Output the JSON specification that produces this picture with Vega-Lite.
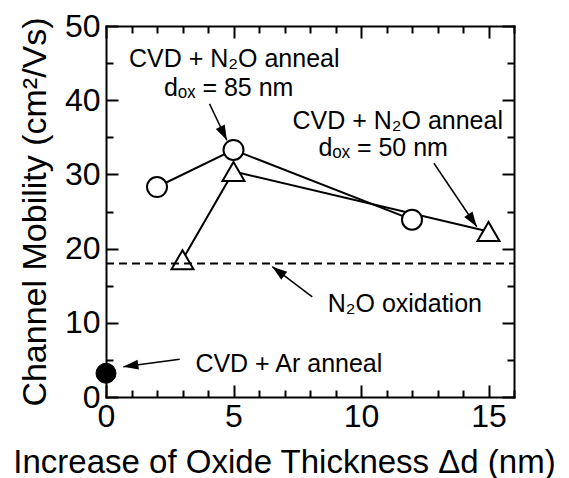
{
  "$schema": "https://vega.github.io/schema/vega-lite/v6.json",
  "width": 408,
  "height": 371,
  "autosize": "none",
  "padding": {"left": 106, "top": 26, "right": 55, "bottom": 81},
  "background": "white",
  "config": {
    "view": {"stroke": null},
    "font": "Liberation Sans",
    "axis": {
      "grid": false,
      "domainColor": "black",
      "domainWidth": 2,
      "domainCap": "square",
      "tickColor": "black",
      "tickWidth": 2,
      "labelColor": "black",
      "labelFont": "Liberation Sans",
      "labelFontSize": 32,
      "titleFont": "Liberation Sans",
      "titleFontSize": 34,
      "titleFontWeight": "normal",
      "titleColor": "black",
      "labelOverlap": false,
      "labelFlush": false
    }
  },
  "datasets": {
    "series": [
      {"x": 2, "y": 28.3, "g": "85"},
      {"x": 5, "y": 33.3, "g": "85"},
      {"x": 12, "y": 23.9, "g": "85"},
      {"x": 3, "y": 18.5, "g": "50"},
      {"x": 5, "y": 30.4, "g": "50"},
      {"x": 15, "y": 22.3, "g": "50"},
      {"x": 0, "y": 3.2, "g": "Ar"}
    ],
    "notes": [
      {"x": 5.03, "y": 45.5, "text": "CVD + N₂O anneal"},
      {"x": 4.81, "y": 41.7, "text": "dₒₓ = 85 nm"},
      {"x": 11.44, "y": 37.2, "text": "CVD + N₂O anneal"},
      {"x": 10.87, "y": 33.6, "text": "dₒₓ = 50 nm"},
      {"x": 11.72, "y": 12.6, "text": "N₂O oxidation"},
      {"x": 7.17, "y": 4.5, "text": "CVD + Ar anneal"}
    ],
    "arrows": [
      {"id": "a1", "x": 4.74, "y": 34.6, "x2": 4.06, "y2": 39.5},
      {"id": "a2", "x": 14.54, "y": 22.95, "x2": 12.86, "y2": 31.5},
      {"id": "a3", "x": 6.52, "y": 17.56, "x2": 8.09, "y2": 13.5},
      {"id": "a4", "x": 0.68, "y": 4.09, "x2": 2.89, "y2": 5.08}
    ],
    "ref": [{"x": 0, "x2": 16, "y": 18}]
  },
  "layer": [
    {
      "encoding": {
        "x": {
          "field": "x",
          "type": "quantitative",
          "scale": {"domain": [0, 16], "nice": false, "zero": false},
          "axis": {
            "orient": "bottom",
            "values": [0,1,2,3,4,5,6,7,8,9,10,11,12,13,14,15,16],
            "tickSize": {"condition": {"test": "datum.value % 5 === 0", "value": -12}, "value": -7},
            "labelExpr": "datum.value % 5 === 0 ? datum.label : ''",
            "labelPadding": 16,
            "title": "Increase of Oxide Thickness Δd (nm)",
            "titleFontSize": 33,
            "titleX": 178,
            "titlePadding": 9
          }
        },
        "y": {
          "field": "y",
          "type": "quantitative",
          "scale": {"domain": [0, 50], "nice": false},
          "axis": {
            "orient": "left",
            "values": [0,5,10,15,20,25,30,35,40,45,50],
            "tickSize": {"condition": {"test": "datum.value % 10 === 0", "value": -12}, "value": -7},
            "labelExpr": "datum.value % 10 === 0 ? datum.label : ''",
            "labelPadding": 18,
            "title": "Channel Mobility (cm²/Vs)",
            "titlePadding": 12
          }
        }
      },
      "layer": [
        {
          "data": {"name": "series"},
          "transform": [{"filter": "datum.g !== 'Ar'"}],
          "mark": {"type": "line", "color": "black", "strokeWidth": 2},
          "encoding": {"detail": {"field": "g"}}
        },
        {
          "data": {"name": "arrows"},
          "mark": {"type": "rule", "color": "black", "strokeWidth": 1.5},
          "encoding": {"x2": {"field": "x2"}, "y2": {"field": "y2"}}
        },
        {
          "data": {"name": "arrows"},
          "transform": [{"filter": "datum.id === 'a1'"}],
          "mark": {"type": "point", "shape": "M0,0L-1,-0.33L-1,0.33Z", "filled": true, "color": "black", "size": 900, "angle": 64, "opacity": 1}
        },
        {
          "data": {"name": "arrows"},
          "transform": [{"filter": "datum.id === 'a2'"}],
          "mark": {"type": "point", "shape": "M0,0L-1,-0.33L-1,0.33Z", "filled": true, "color": "black", "size": 900, "angle": 56, "opacity": 1}
        },
        {
          "data": {"name": "arrows"},
          "transform": [{"filter": "datum.id === 'a3'"}],
          "mark": {"type": "point", "shape": "M0,0L-1,-0.33L-1,0.33Z", "filled": true, "color": "black", "size": 900, "angle": 217, "opacity": 1}
        },
        {
          "data": {"name": "arrows"},
          "transform": [{"filter": "datum.id === 'a4'"}],
          "mark": {"type": "point", "shape": "M0,0L-1,-0.33L-1,0.33Z", "filled": true, "color": "black", "size": 900, "angle": 172, "opacity": 1}
        },
        {
          "data": {"name": "series"},
          "transform": [{"filter": "datum.g === '85'"}],
          "mark": {"type": "point", "shape": "circle", "filled": true, "fill": "white", "stroke": "black", "strokeWidth": 2, "size": 400, "opacity": 1}
        },
        {
          "data": {"name": "series"},
          "transform": [{"filter": "datum.g === '50'"}],
          "mark": {"type": "point", "shape": "triangle-up", "filled": true, "fill": "white", "stroke": "black", "strokeWidth": 2, "size": 484, "opacity": 1}
        },
        {
          "data": {"name": "series"},
          "transform": [{"filter": "datum.g === 'Ar'"}],
          "mark": {"type": "point", "shape": "circle", "filled": true, "fill": "black", "stroke": "black", "strokeWidth": 1, "size": 400, "opacity": 1, "clip": false}
        },
        {
          "data": {"name": "notes"},
          "mark": {"type": "text", "fontSize": 25, "color": "black", "align": "center", "baseline": "middle", "font": "Liberation Sans"},
          "encoding": {"text": {"field": "text"}}
        }
      ]
    },
    {
      "data": {"name": "ref"},
      "mark": {"type": "rule", "color": "black", "strokeWidth": 2, "strokeDash": [8, 5]},
      "encoding": {
        "x": {
          "field": "x",
          "type": "quantitative",
          "scale": {"domain": [0, 16], "nice": false, "zero": false},
          "axis": {
            "orient": "top",
            "values": [0,1,2,3,4,5,6,7,8,9,10,11,12,13,14,15,16],
            "tickSize": {"condition": {"test": "datum.value % 5 === 0", "value": -12}, "value": -7},
            "labels": false,
            "title": null
          }
        },
        "x2": {"field": "x2"},
        "y": {
          "field": "y",
          "type": "quantitative",
          "scale": {"domain": [0, 50], "nice": false},
          "axis": {
            "orient": "right",
            "values": [0,5,10,15,20,25,30,35,40,45,50],
            "tickSize": {"condition": {"test": "datum.value % 10 === 0", "value": -12}, "value": -7},
            "labels": false,
            "title": null
          }
        }
      }
    }
  ],
  "resolve": {"axis": {"x": "independent", "y": "independent"}}
}
